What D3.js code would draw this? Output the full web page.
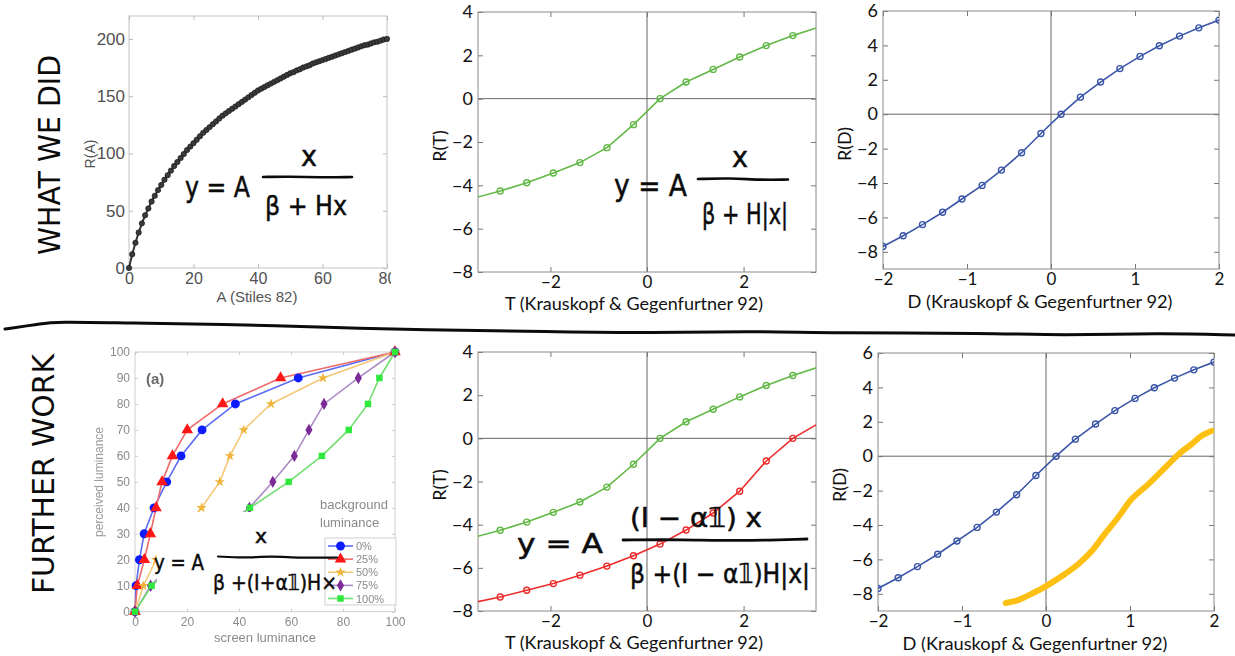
<!DOCTYPE html>
<html>
<head>
<meta charset="utf-8">
<script src="https://cdn.jsdelivr.net/npm/d3@7"></script>
<style>
  body { margin: 0; background: #fff; }
  svg { display: block; }
</style>
</head>
<body>
<div id="chart"></div>
<script>
var svgWidth = 1235;
var svgHeight = 656;

// ---------- data ----------
// Stiles 82: response R(A) against A
var stilesA = d3.range(0, 81);
var stilesR = [0, 12, 22, 31, 39, 46, 52, 58, 63, 68, 72.5,
  77, 81, 85, 89, 92.5, 96, 99.5, 103, 106, 109,
  112, 115, 118, 120.5, 123, 125.5, 128, 130.5, 133, 135,
  137, 139, 141, 143, 145, 147, 149, 151, 153, 155,
  156.5, 158, 159.5, 161, 162.5, 164, 165.5, 167, 168.5, 170,
  171, 172.5, 173.5, 175, 176, 177, 178.5, 179.5, 180.5, 181.5,
  182.5, 183.5, 184.5, 185.5, 186.5, 187.5, 188.5, 189.5, 190.5, 191.5,
  192.5, 193.5, 194.5, 195, 196, 197, 197.5, 198.5, 199.5, 200];

// T channel (Krauskopf & Gegenfurtner 92), first and last points fall outside the box
var tSteps = [-3.62, -3.04, -2.49, -1.94, -1.39, -0.83, -0.28, 0.27, 0.81, 1.37, 1.92, 2.47, 3.02, 3.62];
var tGreen = [-4.61, -4.26, -3.88, -3.43, -2.95, -2.26, -1.20, 0.00, 0.77, 1.35, 1.92, 2.45, 2.91, 3.35];
var tRed = [-7.62, -7.35, -7.04, -6.73, -6.34, -5.92, -5.44, -4.90, -4.25, -3.46, -2.45, -1.05, 0.00, 0.78];

// D channel
var dSteps = [-2.00, -1.76, -1.53, -1.29, -1.06, -0.82, -0.59, -0.35, -0.12,
  0.12, 0.35, 0.59, 0.82, 1.06, 1.29, 1.53, 1.76, 2.00];
var dBlue = [-7.69, -7.07, -6.42, -5.70, -4.93, -4.14, -3.25, -2.24, -1.12,
  0.00, 0.99, 1.87, 2.65, 3.36, 3.98, 4.54, 5.02, 5.47];

// hand drawn yellow stroke on the D plot
var penX = [-0.48, -0.34, -0.21, -0.05, 0.11, 0.23, 0.39, 0.55, 0.70, 0.86, 1.02, 1.22, 1.34, 1.46, 1.58, 1.73, 1.85, 1.97];
var penY = [-8.53, -8.38, -8.09, -7.70, -7.22, -6.83, -6.25, -5.48, -4.52, -3.55, -2.49, -1.62, -1.04, -0.46, 0.12, 0.69, 1.18, 1.47];

// perceived vs screen luminance, one array per background luminance
var perceived = [0, 10, 20, 30, 40, 50, 60, 70, 80, 90, 100];
var screenBg0 = [0, 0.4, 1.7, 3.5, 7.3, 12.2, 17.7, 25.8, 38.6, 62.8, 100];
var screenBg25 = [0, 0.9, 3.6, 5.9, 8.1, 10.4, 14.4, 20.1, 33.7, 56.0, 100];
var screenBg50 = [0, 3.2, 8.1, 17.0, 25.6, 32.6, 36.5, 41.8, 52.3, 72.3, 100];
var screenBg75 = [0, 6.0, 16.0, 30.0, 44.0, 53.0, 61.3, 66.9, 72.7, 85.9, 100];
var screenBg100 = [0, 6.4, 18.0, 32.0, 44.2, 59.1, 71.9, 82.2, 89.6, 94.0, 100];
var bgLabels = ["0%", "25%", "50%", "75%", "100%"];

var svg = d3.select("#chart")
  .append("svg")
  .attr("width", svgWidth)
  .attr("height", svgHeight)
  .style("background", "#fff");

var defs = svg.append("defs");
defs.append("filter").attr("id", "soft")
  .append("feGaussianBlur").attr("stdDeviation", 0.5);

var clipCount = 0;
function addClip(x, y, w, h) {
  var id = "clip" + (++clipCount);
  defs.append("clipPath").attr("id", id)
    .append("rect").attr("x", x).attr("y", y).attr("width", w).attr("height", h);
  return "url(#" + id + ")";
}

function styleAxis(sel, lineColor, textColor, font, size) {
  sel.select(".domain").remove();
  sel.selectAll(".tick line").attr("stroke", lineColor);
  sel.selectAll(".tick text").attr("fill", textColor)
    .style("font-family", font).style("font-size", size + "px");
}

// ---------- panel 1 : Stiles ----------
var p1 = {left: 129, right: 387, top: 16, bottom: 268};
var x1 = d3.scaleLinear().domain([0, 80]).range([p1.left, p1.right]);
var y1 = d3.scaleLinear().domain([0, 220]).range([p1.bottom, p1.top]);

var g1 = svg.append("g").attr("clip-path", addClip(0, 0, 391, 320));
g1.append("rect")
  .attr("x", p1.left).attr("y", p1.top)
  .attr("width", p1.right - p1.left).attr("height", p1.bottom - p1.top)
  .attr("fill", "none").attr("stroke", "#c4c4c4");

var narrow = "'Liberation Sans Narrow', 'Liberation Sans', sans-serif";
g1.append("g").attr("transform", `translate(0, ${p1.bottom})`)
  .call(d3.axisBottom(x1).tickValues([0, 20, 40, 60, 80]).tickSizeInner(-4).tickSizeOuter(0).tickPadding(5))
  .call(styleAxis, "#bbb", "#505050", narrow, 16);
g1.append("g").attr("transform", `translate(0, ${p1.top})`)
  .call(d3.axisTop(x1).tickValues([0, 20, 40, 60, 80]).tickSizeInner(-4).tickSizeOuter(0).tickFormat(""))
  .call(styleAxis, "#bbb", "#505050", narrow, 16);
g1.append("g").attr("transform", `translate(${p1.left}, 0)`)
  .call(d3.axisLeft(y1).tickValues([0, 50, 100, 150, 200]).tickSizeInner(-4).tickSizeOuter(0).tickPadding(4))
  .call(styleAxis, "#bbb", "#505050", narrow, 17);
g1.append("g").attr("transform", `translate(${p1.right}, 0)`)
  .call(d3.axisRight(y1).tickValues([0, 50, 100, 150, 200]).tickSizeInner(-4).tickSizeOuter(0).tickFormat(""))
  .call(styleAxis, "#bbb", "#505050", narrow, 17);

g1.append("path").datum(stilesA)
  .attr("d", d3.line().x(d => x1(d)).y((d, i) => y1(stilesR[i])))
  .attr("fill", "none").attr("stroke", "#333").attr("stroke-width", 2);
g1.selectAll("circle.st").data(stilesA).enter().append("circle")
  .attr("class", "st")
  .attr("cx", d => x1(d))
  .attr("cy", (d, i) => y1(stilesR[i]))
  .attr("r", 2.7)
  .attr("fill", "#3a3a3a")
  .attr("stroke", "#111").attr("stroke-width", 0.6);

g1.append("text").attr("transform", "translate(95, 154) rotate(-90)")
  .attr("text-anchor", "middle").attr("fill", "#555")
  .style("font-family", narrow).style("font-size", "14px").text("R(A)");
g1.append("text").attr("x", 257).attr("y", 302)
  .attr("text-anchor", "middle").attr("fill", "#555")
  .style("font-family", narrow).style("font-size", "15px").text("A (Stiles 82)");

// ---------- MATLAB style panels ----------
var sans = "Lato, 'Open Sans', sans-serif";
var intFormat = d3.format("d");

function matlabPanel(box, xDomain, yDomain, xTicks, yTicks) {
  var x = d3.scaleLinear().domain(xDomain).range([box.left, box.right]);
  var y = d3.scaleLinear().domain(yDomain).range([box.bottom, box.top]);
  var g = svg.append("g");

  g.append("line")
    .attr("x1", box.left).attr("x2", box.right)
    .attr("y1", y(0)).attr("y2", y(0))
    .attr("stroke", "#666").attr("stroke-width", 1);
  g.append("line")
    .attr("x1", x(0)).attr("x2", x(0))
    .attr("y1", box.top).attr("y2", box.bottom)
    .attr("stroke", "#666").attr("stroke-width", 1);

  g.append("g").attr("transform", `translate(0, ${box.bottom})`)
    .call(d3.axisBottom(x).tickValues(xTicks).tickFormat(intFormat).tickSizeInner(-5).tickSizeOuter(0).tickPadding(4))
    .call(styleAxis, "#777", "#111", sans, 17);
  g.append("g").attr("transform", `translate(0, ${box.top})`)
    .call(d3.axisTop(x).tickValues(xTicks).tickSizeInner(-5).tickSizeOuter(0).tickFormat(""))
    .call(styleAxis, "#777", "#111", sans, 17);
  g.append("g").attr("transform", `translate(${box.left}, 0)`)
    .call(d3.axisLeft(y).tickValues(yTicks).tickFormat(intFormat).tickSizeInner(-5).tickSizeOuter(0).tickPadding(5))
    .call(styleAxis, "#777", "#111", sans, 18);
  g.append("g").attr("transform", `translate(${box.right}, 0)`)
    .call(d3.axisRight(y).tickValues(yTicks).tickSizeInner(-5).tickSizeOuter(0).tickFormat(""))
    .call(styleAxis, "#777", "#111", sans, 18);

  g.append("rect")
    .attr("x", box.left).attr("y", box.top)
    .attr("width", box.right - box.left).attr("height", box.bottom - box.top)
    .attr("fill", "none").attr("stroke", "#8a8a8a");

  var plot = g.append("g")
    .attr("clip-path", addClip(box.left, box.top, box.right - box.left, box.bottom - box.top));
  return {x: x, y: y, g: g, plot: plot};
}

function drawSeries(panel, xs, ys, color) {
  var line = d3.line().x(d => panel.x(d)).y((d, i) => panel.y(ys[i]));
  panel.plot.append("path").datum(xs)
    .attr("d", line)
    .attr("fill", "none").attr("stroke", color).attr("stroke-width", 1.6);
  panel.plot.selectAll(null).data(xs).enter().append("circle")
    .attr("cx", d => panel.x(d))
    .attr("cy", (d, i) => panel.y(ys[i]))
    .attr("r", 3)
    .attr("fill", "none").attr("stroke", color).attr("stroke-width", 1.4);
}

function axisTitles(panel, xTitle, xPos, yTitle, yPos) {
  panel.g.append("text").attr("x", xPos[0]).attr("y", xPos[1])
    .attr("text-anchor", "middle").attr("fill", "#111")
    .attr("textLength", xPos[2]).attr("lengthAdjust", "spacingAndGlyphs")
    .style("font-family", sans).style("font-size", "18px").text(xTitle);
  panel.g.append("text").attr("transform", `translate(${yPos[0]}, ${yPos[1]}) rotate(-90)`)
    .attr("text-anchor", "middle").attr("fill", "#111")
    .style("font-family", sans).style("font-size", "18px").text(yTitle);
}

var tTicksX = [-2, 0, 2];
var tTicksY = [-8, -6, -4, -2, 0, 2, 4];
var dTicksX = [-2, -1, 0, 1, 2];
var dTicksY = [-8, -6, -4, -2, 0, 2, 4, 6];
var tLabel = "T (Krauskopf & Gegenfurtner 92)";
var dLabel = "D (Krauskopf & Gegenfurtner 92)";

// panel 2 : T, green only
var p2 = matlabPanel({left: 478, right: 816, top: 12, bottom: 272}, [-3.5, 3.5], [-8, 4], tTicksX, tTicksY);
drawSeries(p2, tSteps, tGreen, "#62b846");
axisTitles(p2, tLabel, [634, 310, 258], "R(T)", [446, 146]);

// panel 3 : D, blue only
var p3 = matlabPanel({left: 883, right: 1219, top: 11, bottom: 269}, [-2, 2], [-9, 6], dTicksX, dTicksY);
drawSeries(p3, dSteps, dBlue, "#3b56a8");
axisTitles(p3, dLabel, [1040, 308, 265], "R(D)", [851, 144]);

// panel 5 : T, green and red
var p5 = matlabPanel({left: 478, right: 816, top: 352, bottom: 611}, [-3.5, 3.5], [-8, 4], tTicksX, tTicksY);
drawSeries(p5, tSteps, tGreen, "#62b846");
drawSeries(p5, tSteps, tRed, "#ee2b2b");
axisTitles(p5, tLabel, [634, 649, 258], "R(T)", [446, 485]);

// panel 6 : D, blue plus hand drawn yellow stroke
var p6 = matlabPanel({left: 878, right: 1214, top: 353, bottom: 611}, [-2, 2], [-9, 6], dTicksX, dTicksY);
drawSeries(p6, dSteps, dBlue, "#3b56a8");
p6.plot.append("path").datum(penX)
  .attr("d", d3.line().curve(d3.curveCatmullRom).x(d => p6.x(d)).y((d, i) => p6.y(penY[i])))
  .attr("fill", "none").attr("stroke", "#fdbf12")
  .attr("stroke-width", 6).attr("stroke-linecap", "round").attr("stroke-linejoin", "round");
axisTitles(p6, dLabel, [1035, 650, 265], "R(D)", [846, 485]);

// ---------- panel 4 : perceived luminance ----------
var p4 = {left: 135, right: 395, top: 352, bottom: 611.7};
var x4 = d3.scaleLinear().domain([0, 100]).range([p4.left, p4.right]);
var y4 = d3.scaleLinear().domain([0, 100]).range([p4.bottom, p4.top]);
var g4 = svg.append("g").attr("filter", "url(#soft)");

g4.append("rect")
  .attr("x", p4.left).attr("y", p4.top)
  .attr("width", p4.right - p4.left).attr("height", p4.bottom - p4.top)
  .attr("fill", "#fff").attr("stroke", "#d0d0d0");

var lumFont = "'Liberation Sans', Arial, sans-serif";
g4.append("g").attr("transform", `translate(0, ${p4.bottom})`)
  .call(d3.axisBottom(x4).tickValues([0, 20, 40, 60, 80, 100]).tickSizeInner(-3).tickSizeOuter(0).tickPadding(6))
  .call(styleAxis, "#ccc", "#8a8a8a", lumFont, 12);
g4.append("g").attr("transform", `translate(0, ${p4.top})`)
  .call(d3.axisTop(x4).tickValues([0, 20, 40, 60, 80, 100]).tickSizeInner(-3).tickSizeOuter(0).tickFormat(""))
  .call(styleAxis, "#ccc", "#8a8a8a", lumFont, 12);
g4.append("g").attr("transform", `translate(${p4.left}, 0)`)
  .call(d3.axisLeft(y4).tickValues(perceived).tickSizeInner(-3).tickSizeOuter(0).tickPadding(5))
  .call(styleAxis, "#ccc", "#8a8a8a", lumFont, 12);
g4.append("g").attr("transform", `translate(${p4.right}, 0)`)
  .call(d3.axisRight(y4).tickValues(perceived).tickSizeInner(-3).tickSizeOuter(0).tickFormat(""))
  .call(styleAxis, "#ccc", "#8a8a8a", lumFont, 12);

var lumSeries = [
  {values: screenBg0, marker: d3.symbolCircle, size: 62, fill: "#0a1cff", line: "#5a6cf5"},
  {values: screenBg25, marker: d3.symbolTriangle, size: 58, fill: "#ff1414", line: "#f06a6a"},
  {values: screenBg50, marker: d3.symbolStar, size: 34, fill: "#f0b43a", line: "#f4c877"},
  {values: screenBg75, marker: d3.symbolDiamond, size: 44, fill: "#7b2c98", line: "#ab8ac6"},
  {values: screenBg100, marker: d3.symbolSquare, size: 42, fill: "#2ee83a", line: "#72de72"}
];

lumSeries.forEach(function(s) {
  g4.append("path").datum(perceived)
    .attr("d", d3.line().x((d, i) => x4(s.values[i])).y(d => y4(d)))
    .attr("fill", "none").attr("stroke", s.line).attr("stroke-width", 1.6);
});
lumSeries.forEach(function(s) {
  g4.selectAll(null).data(perceived).enter().append("path")
    .attr("d", d3.symbol().type(s.marker).size(s.size))
    .attr("transform", (d, i) => `translate(${x4(s.values[i])}, ${y4(d)})`)
    .attr("fill", s.fill);
});

g4.append("text").attr("x", 146).attr("y", 384).attr("fill", "#6a6a6a")
  .style("font-family", lumFont).style("font-size", "15px").style("font-weight", "bold").text("(a)");
g4.append("text").attr("transform", "translate(103, 482) rotate(-90)")
  .attr("text-anchor", "middle").attr("fill", "#9a9a9a")
  .style("font-family", lumFont).style("font-size", "12px").text("perceived luminance");
g4.append("text").attr("x", 265).attr("y", 642)
  .attr("text-anchor", "middle").attr("fill", "#8a8a8a")
  .style("font-family", lumFont).style("font-size", "13px").text("screen luminance");

// pasted formula covers part of the plot
g4.append("rect").attr("x", 157).attr("y", 512).attr("width", 166).attr("height", 95).attr("fill", "#fff");

g4.append("text").attr("x", 320).attr("y", 509).attr("fill", "#8a8a8a")
  .style("font-family", lumFont).style("font-size", "13px").text("background");
g4.append("text").attr("x", 320).attr("y", 527).attr("fill", "#8a8a8a")
  .style("font-family", lumFont).style("font-size", "13px").text("luminance");

var legend = g4.append("g");
legend.append("rect").attr("x", 325).attr("y", 538).attr("width", 71).attr("height", 67)
  .attr("fill", "#fff").attr("stroke", "#cfcfcf");
var legY = d3.scalePoint().domain(bgLabels).range([546, 598.5]);
lumSeries.forEach(function(s, i) {
  var yy = legY(bgLabels[i]);
  legend.append("line").attr("x1", 328).attr("x2", 353).attr("y1", yy).attr("y2", yy)
    .attr("stroke", s.line).attr("stroke-width", 1.6);
  legend.append("path").attr("d", d3.symbol().type(s.marker).size(s.size))
    .attr("transform", `translate(340.5, ${yy})`).attr("fill", s.fill);
  legend.append("text").attr("x", 356).attr("y", yy + 4).attr("fill", "#8a8a8a")
    .style("font-family", lumFont).style("font-size", "11px").text(bgLabels[i]);
});

// ---------- hand written parts ----------
var hand = "'DejaVu Sans', sans-serif";
function handText(x, y, str, size, len, anchor) {
  svg.append("text").attr("x", x).attr("y", y)
    .attr("text-anchor", anchor || "start")
    .attr("textLength", len).attr("lengthAdjust", "spacingAndGlyphs")
    .attr("fill", "#0b0b0b").attr("stroke", "#0b0b0b").attr("stroke-width", 0.5)
    .style("font-family", hand).style("font-size", size + "px")
    .text(str);
}
function handLine(pts, w) {
  svg.append("path").datum(pts)
    .attr("d", d3.line().curve(d3.curveBasis))
    .attr("fill", "none").attr("stroke", "#0b0b0b")
    .attr("stroke-width", w).attr("stroke-linecap", "round");
}

// vertical section titles
svg.append("text").attr("transform", "translate(60, 155) rotate(-90)")
  .attr("text-anchor", "middle").attr("textLength", 200).attr("lengthAdjust", "spacingAndGlyphs")
  .attr("fill", "#0b0b0b").style("font-family", hand).style("font-size", "31px").text("WHAT WE DID");
svg.append("text").attr("transform", "translate(54, 474) rotate(-90)")
  .attr("text-anchor", "middle").attr("textLength", 240).attr("lengthAdjust", "spacingAndGlyphs")
  .attr("fill", "#0b0b0b").style("font-family", hand).style("font-size", "31px").text("FURTHER WORK");

// divider
handLine([[5, 329], [40, 324], [55, 321.5], [130, 323], [220, 324], [330, 327.5], [420, 330],
  [550, 331.5], [650, 333], [750, 331], [830, 333], [990, 333], [1060, 335.5], [1160, 333], [1235, 335]], 3);

// formula, top left
handText(185, 197, "y = A", 28, 65);
handLine([[263, 177], [290, 176.5], [320, 177.5], [352, 177]], 2.6);
handText(309, 166, "x", 28, 16, "middle");
handText(265, 215, "β + Hx", 27, 82);

// formula, top middle
handText(614, 196, "y = A", 30, 73);
handLine([[698, 179], [730, 178], [760, 180], [788, 179.5]], 2.6);
handText(740, 167, "x", 28, 16, "middle");
handText(702, 224, "β + H|x|", 29, 86);

// formula, bottom left
handText(154, 570, "y = A", 22, 50);
handLine([[218, 556.5], [245, 558], [270, 556], [300, 558], [337, 557.5]], 2.2);
handText(261, 543, "x", 20, 12, "middle");
handText(213, 590, "β +(I+α𝟙)H×", 22, 124);

// formula, bottom middle
handText(517, 553, "y  =  A", 26, 86);
handLine([[623, 540], [680, 539.5], [740, 541], [807, 539]], 2.8);
handText(630, 527, "(I − α𝟙) x", 26, 132);
handText(630, 583, "β +(I − α𝟙)H|x|", 26, 180);
</script>
</body>
</html>
